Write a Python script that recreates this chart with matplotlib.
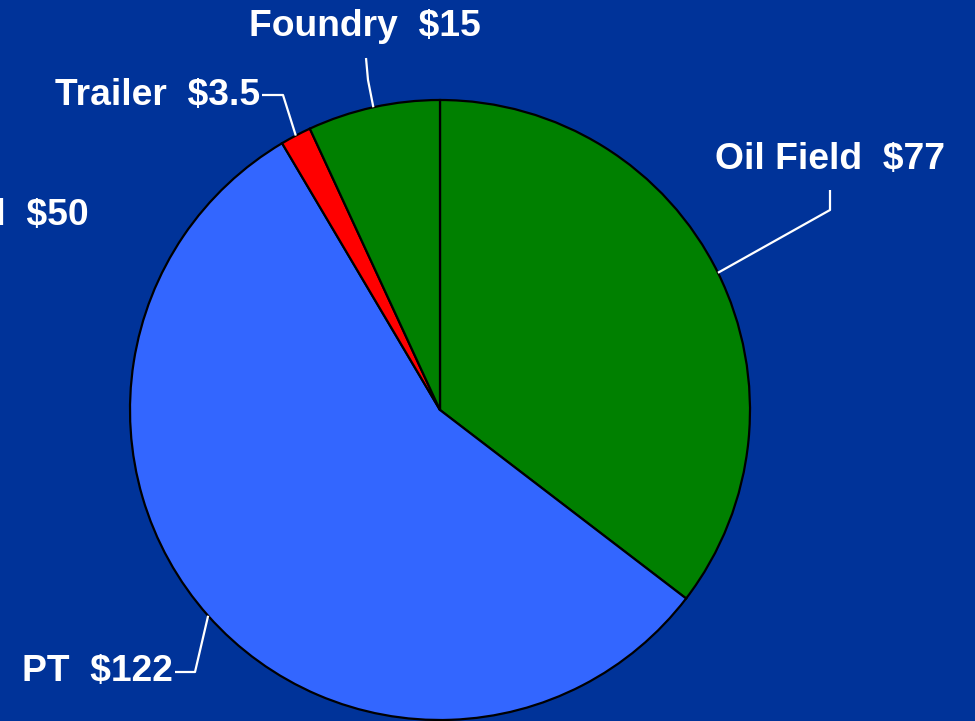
import numpy as np
import matplotlib.pyplot as plt

# segment data (in $ millions)
labels = ["Oil Field", "PT", "Trailer", "Foundry"]
values = [77, 122, 3.5, 15]
value_text = ["$77", "$122", "$3.5", "$15"]
colors = ["#008000", "#3366FF", "#FF0000", "#008000"]

# label that sits mostly off the left edge of the slide
extra_label = "Industrial  $50"

bg = "#003399"
W, H = 975, 721
cx, cy, R = 440, 410, 310  # pie centre / radius in pixels

fig = plt.figure(figsize=(W / 100, H / 100), dpi=100)
fig.patch.set_facecolor(bg)
ax = fig.add_axes([(cx - R) / W, (H - cy - R) / H, 2 * R / W, 2 * R / H])
ax.set_facecolor(bg)

wedges, _ = ax.pie(values, colors=colors, startangle=90, counterclock=False,
                   radius=1, wedgeprops=dict(edgecolor="black", linewidth=1.6))
ax.set_xlim(-1, 1)
ax.set_ylim(-1, 1)
ax.set_aspect("equal")
ax.axis("off")


def px(x, y):
    # pixel position -> data coords
    return (x - cx) / R, (cy - y) / R


# leader elbows and text anchors (pixels)
elbows = [
    [(830, 210), (830, 190)],
    [(195, 672), (175, 672)],
    [(283, 95), (262, 95)],
    [(368, 80), (366, 58)],
]
text_pos = [((830, 160), "center"), ((173, 672), "right"),
            ((260, 95), "right"), ((365, 27), "center")]

font = dict(family="Liberation Sans", weight="bold", size=26.8, color="white")

for w, lab, vt, elb, (tp, ha) in zip(wedges, labels, value_text, elbows, text_pos):
    mid = np.deg2rad((w.theta1 + w.theta2) / 2)
    pts = [(np.cos(mid), np.sin(mid))] + [px(*p) for p in elb]
    xs, ys = zip(*pts)
    ax.plot(xs, ys, color="white", lw=1.6, clip_on=False, solid_capstyle="butt")
    tx, ty = px(*tp)
    ax.text(tx, ty, f"{lab}  {vt}", ha=ha, va="center", clip_on=False, **font)

ex, ey = px(89, 215)
ax.text(ex, ey, extra_label, ha="right", va="center", clip_on=False, **font)

fig.savefig("out.png", dpi=100, facecolor=bg)
